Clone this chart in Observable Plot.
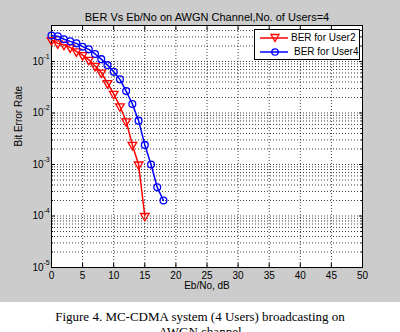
<!DOCTYPE html>
<html>
<head>
<meta charset="utf-8">
<script src="https://cdn.jsdelivr.net/npm/d3@7"></script>
<script src="https://cdn.jsdelivr.net/npm/@observablehq/plot@0.6"></script>
<style>
  html, body { margin: 0; padding: 0; background: #ffffff; }
  #fig { position: relative; width: 400px; height: 302px; background: #cccccc; overflow: hidden; }
  #legend { position: absolute; left: 254px; top: 29px; width: 104px; height: 29px; background: #fff; border: 1px solid #000;
            font-family: "Liberation Sans", Arial, sans-serif; font-size: 10px; color: #000; }
  #legend .row { position: absolute; left: 0; height: 14px; }
  #legend svg { position: absolute; left: 0; top: 0; }
  #legend span { position: absolute; top: 0; line-height: 14px; white-space: nowrap; }
  #caption { width: 400px; text-align: center; font-family: "Liberation Serif", "Times New Roman", serif; font-size: 13px;
             line-height: 15px; padding-top: 7px; color: #000; }
</style>
</head>
<body>
<div id="fig"></div>
<div id="caption">Figure 4. MC-CDMA system (4 Users) broadcasting on<br>AWGN channel</div>
<script>
// ---- data ----
const ebnoUser2 = [0, 1, 2, 3, 4, 5, 6, 7, 8, 9, 10, 11, 12, 13, 14, 15];
const berUser2  = [0.26, 0.225, 0.212, 0.188, 0.157, 0.133, 0.108, 0.082, 0.061, 0.038, 0.0236, 0.0135, 0.0069, 0.0024, 0.001, 0.0001];
const ebnoUser4 = [0, 1, 2, 3, 4, 5, 6, 7, 8, 9, 10, 11, 12, 13, 14, 15, 16, 17, 18];
const berUser4  = [0.32, 0.31, 0.27, 0.246, 0.225, 0.194, 0.172, 0.14, 0.111, 0.085, 0.063, 0.045, 0.0266, 0.015, 0.0071, 0.0024, 0.001, 0.00036, 0.0002];

const xTicks = [0, 5, 10, 15, 20, 25, 30, 35, 40, 45, 50];
const yTicks = [1e-5, 1e-4, 1e-3, 1e-2, 1e-1];
const yTickBase = "10";
const yTickExponents = ["-5", "-4", "-3", "-2", "-1"];
const yMinor = [2e-5,3e-5,4e-5,5e-5,6e-5,7e-5,8e-5,9e-5,
                2e-4,3e-4,4e-4,5e-4,6e-4,7e-4,8e-4,9e-4,
                2e-3,3e-3,4e-3,5e-3,6e-3,7e-3,8e-3,9e-3,
                2e-2,3e-2,4e-2,5e-2,6e-2,7e-2,8e-2,9e-2,
                0.2,0.3,0.4];
const titleText = "BER Vs Eb/No on AWGN Channel,No. of Users=4";
const xLabel = "Eb/No, dB";
const yLabel = "Bit Error Rate";
const seriesNames = ["BER for User2", "BER for User4"];
const seriesColors = ["#ff0000", "#0000ff"];

const user2 = ebnoUser2.map((x, i) => ({x, y: berUser2[i]}));
const user4 = ebnoUser4.map((x, i) => ({x, y: berUser4[i]}));
const expTable = yTicks.map((v, i) => ({v, e: yTickExponents[i]}));

const gridStyle = {stroke: "#000", strokeOpacity: 0.75, strokeDasharray: "1,2", strokeWidth: 1};

const chart = Plot.plot({
  width: 400,
  height: 302,
  marginLeft: 51,
  marginRight: 38,
  marginTop: 25,
  marginBottom: 35,
  style: {background: "#cccccc", fontFamily: "Liberation Sans, Arial, sans-serif", fontSize: "10px", color: "#000", overflow: "visible"},
  x: {domain: [0, 50]},
  y: {type: "log", domain: [1e-5, 0.5]},
  marks: [
    Plot.frame({fill: "#ffffff", stroke: null}),
    Plot.gridX(xTicks.slice(1, -1), gridStyle),
    Plot.gridY(yTicks.slice(1), gridStyle),
    Plot.gridY(yMinor, gridStyle),
    // axes with inward ticks (box on)
    Plot.axisX(xTicks, {anchor: "bottom", tickSize: -4, tickPadding: 8, label: null, fontSize: 10}),
    Plot.axisX(xTicks, {anchor: "top", tickSize: -4, tickFormat: () => "", label: null}),
    Plot.axisY(yTicks, {anchor: "left", tickSize: -4, tickPadding: 12, tickFormat: () => yTickBase, label: null, fontSize: 10}),
    Plot.text(expTable, {y: "v", text: "e", frameAnchor: "left", dx: -8, dy: -5, textAnchor: "start", fontSize: 7, fill: "#000"}),
    Plot.axisY(yMinor, {anchor: "left", tickSize: -2, tickFormat: () => "", label: null}),
    Plot.axisY(yTicks, {anchor: "right", tickSize: -4, tickFormat: () => "", label: null}),
    Plot.axisY(yMinor, {anchor: "right", tickSize: -2, tickFormat: () => "", label: null}),
    Plot.frame({stroke: "#000", strokeWidth: 1}),
    // series
    Plot.line(user2, {x: "x", y: "y", stroke: seriesColors[0], strokeWidth: 1.5}),
    Plot.dot(user2, {x: "x", y: "y", symbol: "triangle", rotate: 180, r: 3.2, stroke: seriesColors[0], fill: "none", strokeWidth: 1.3}),
    Plot.line(user4, {x: "x", y: "y", stroke: seriesColors[1], strokeWidth: 1.5}),
    Plot.dot(user4, {x: "x", y: "y", symbol: "circle", r: 3.4, stroke: seriesColors[1], fill: "none", strokeWidth: 1.3}),
    // title and axis labels
    Plot.text([titleText], {frameAnchor: "top", dy: -12, fontSize: 11, fill: "#000"}),
    Plot.text([xLabel], {frameAnchor: "bottom", dy: 21, fontSize: 10, fill: "#000"}),
    Plot.text([yLabel], {frameAnchor: "left", dx: -33, rotate: -90, fontSize: 10, fill: "#000"})
  ]
});

const fig = document.getElementById("fig");
fig.appendChild(chart);

// legend overlay inside the plot area
const legend = document.createElement("div");
legend.id = "legend";
const rows = [
  {name: seriesNames[0], color: seriesColors[0], sym: "tri", top: 1, textLeft: 36},
  {name: seriesNames[1], color: seriesColors[1], sym: "circ", top: 15, textLeft: 39}
];
for (const r of rows) {
  const row = document.createElement("div");
  row.className = "row";
  row.style.top = r.top + "px";
  row.style.width = "104px";
  const marker = r.sym === "tri"
    ? `<path d="M20,10.5 L16,3.5 L24,3.5 Z" fill="none" stroke="${r.color}" stroke-width="1.3"/>`
    : `<circle cx="20" cy="7" r="3.2" fill="none" stroke="${r.color}" stroke-width="1.3"/>`;
  row.innerHTML = `<svg width="40" height="14"><line x1="5" y1="7" x2="33" y2="7" stroke="${r.color}" stroke-width="1.5"/>${marker}</svg><span style="left:${r.textLeft}px">${r.name}</span>`;
  legend.appendChild(row);
}
fig.appendChild(legend);
</script>
</body>
</html>
